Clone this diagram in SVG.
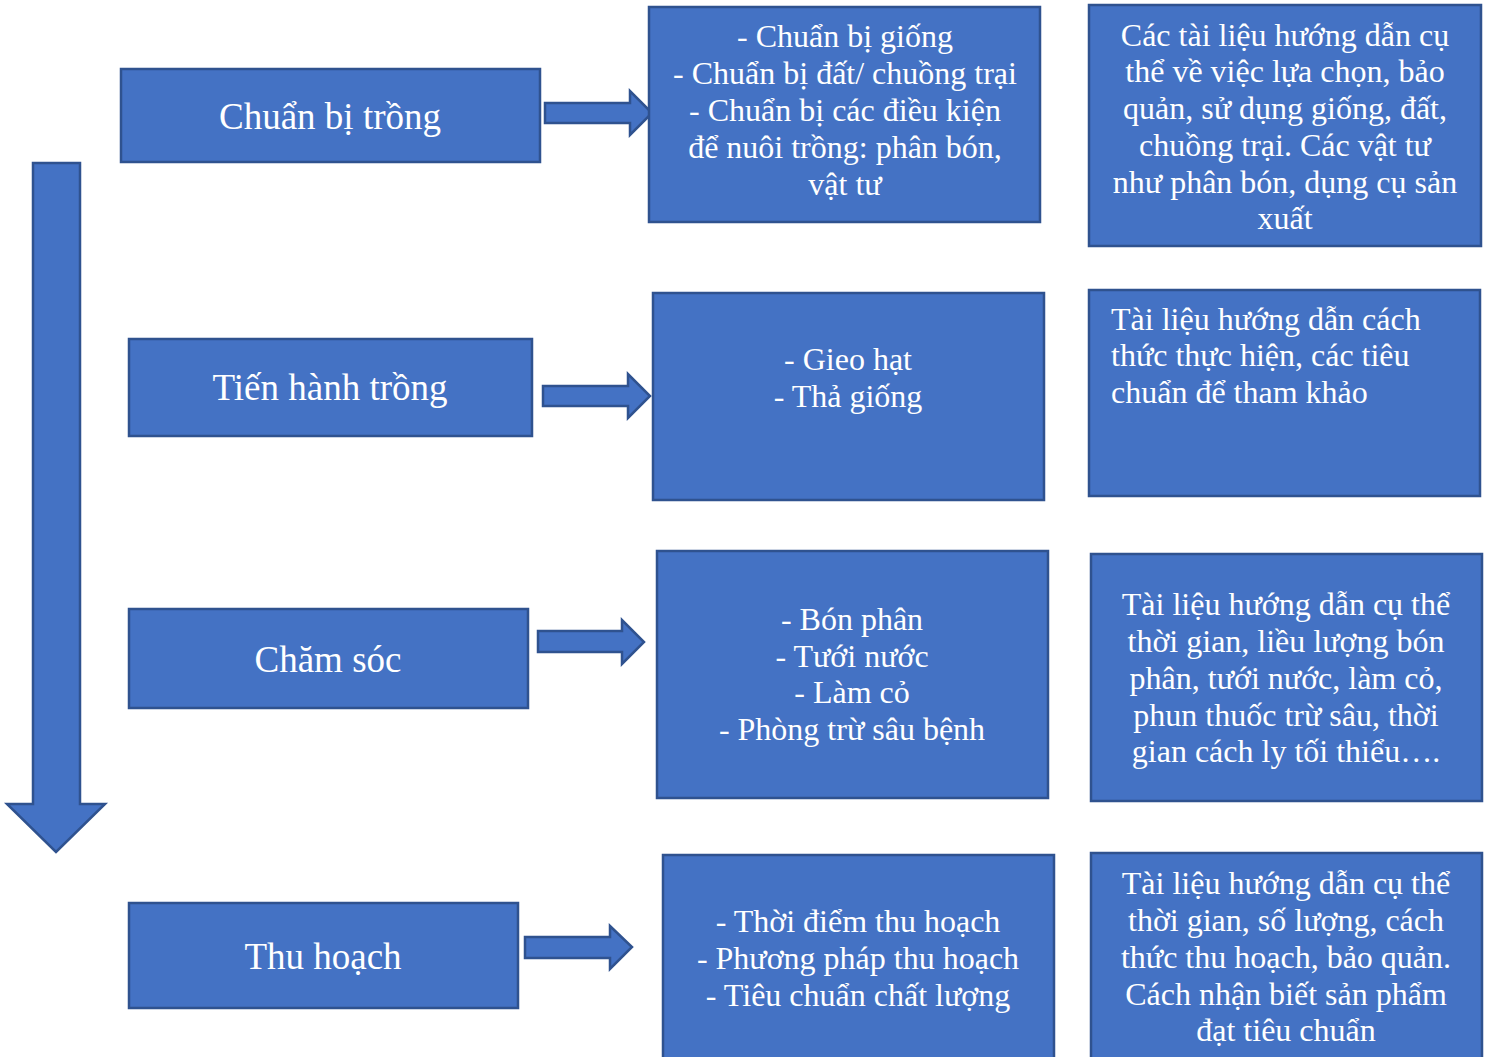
<svg xmlns="http://www.w3.org/2000/svg" width="1490" height="1057" viewBox="0 0 1490 1057">
<style>
.box{fill:#4472C4;stroke:#2F528F;stroke-width:2.5}
.arr{fill:#4472C4;stroke:#2F528F;stroke-width:2.5;stroke-linejoin:miter}
text{font-family:"Liberation Serif","Times New Roman",serif;fill:#fff}
.big{font-size:37px;text-anchor:middle}
.t{font-size:32px;text-anchor:middle}
.tl{font-size:32px;text-anchor:start}
</style>
<rect width="1490" height="1057" fill="#fff"/>
<g id="connectors">
<path class="arr" d="M33,163 H80 V804 H105 L56,852 L7,804 H33 Z"/>
<path class="arr" d="M545,103 H630 V91 L652,113 L630,135 V123 H545 Z"/>
<path class="arr" d="M543,386 H628 V374 L650,396 L628,418 V406 H543 Z"/>
<path class="arr" d="M538,631 H622 V620 L644,642 L622,664 V652 H538 Z"/>
<path class="arr" d="M525,937 H610 V926 L632,947 L610,969 V958 H525 Z"/>
</g>
<g id="n1"><rect class="box" x="121" y="69" width="419" height="93"/><text class="big" x="330" y="129">Chuẩn bị trồng</text></g>
<g id="n2"><rect class="box" x="129" y="339" width="403" height="97"/><text class="big" x="330" y="400">Tiến hành trồng</text></g>
<g id="n3"><rect class="box" x="129" y="609" width="399" height="99"/><text class="big" x="328" y="672">Chăm sóc</text></g>
<g id="n4"><rect class="box" x="129" y="903" width="389" height="105"/><text class="big" x="323" y="969">Thu hoạch</text></g>
<g id="m1"><rect class="box" x="649" y="7" width="391" height="215"/>
<text class="t" x="845"><tspan x="845" y="47">- Chuẩn bị giống</tspan><tspan x="845" y="84">- Chuẩn bị đất/ chuồng trại</tspan><tspan x="845" y="121">- Chuẩn bị các điều kiện</tspan><tspan x="845" y="158">để nuôi trồng: phân bón,</tspan><tspan x="845" y="195">vật tư</tspan></text></g>
<g id="m2"><rect class="box" x="653" y="293" width="391" height="207"/>
<text class="t"><tspan x="848" y="370">- Gieo hạt</tspan><tspan x="848" y="407">- Thả giống</tspan></text></g>
<g id="m3"><rect class="box" x="657" y="551" width="391" height="247"/>
<text class="t"><tspan x="852" y="630">- Bón phân</tspan><tspan x="852" y="667">- Tưới nước</tspan><tspan x="852" y="703">- Làm cỏ</tspan><tspan x="852" y="740">- Phòng trừ sâu bệnh</tspan></text></g>
<g id="m4"><rect class="box" x="663" y="855" width="391" height="210"/>
<text class="t"><tspan x="858" y="932">- Thời điểm thu hoạch</tspan><tspan x="858" y="969">- Phương pháp thu hoạch</tspan><tspan x="858" y="1006">- Tiêu chuẩn chất lượng</tspan></text></g>
<g id="r1"><rect class="box" x="1089" y="5" width="392" height="241"/>
<text class="t"><tspan x="1285" y="46">Các tài liệu hướng dẫn cụ</tspan><tspan x="1285" y="82">thể về việc lựa chọn, bảo</tspan><tspan x="1285" y="119">quản, sử dụng giống, đất,</tspan><tspan x="1285" y="156">chuồng trại. Các vật tư</tspan><tspan x="1285" y="193">như phân bón, dụng cụ sản</tspan><tspan x="1285" y="229">xuất</tspan></text></g>
<g id="r2"><rect class="box" x="1089" y="290" width="391" height="206"/>
<text class="tl"><tspan x="1111" y="330">Tài liệu hướng dẫn cách</tspan><tspan x="1111" y="366">thức thực hiện, các tiêu</tspan><tspan x="1111" y="403">chuẩn để tham khảo</tspan></text></g>
<g id="r3"><rect class="box" x="1091" y="554" width="391" height="247"/>
<text class="t"><tspan x="1286" y="615">Tài liệu hướng dẫn cụ thể</tspan><tspan x="1286" y="652">thời gian, liều lượng bón</tspan><tspan x="1286" y="689">phân, tưới nước, làm cỏ,</tspan><tspan x="1286" y="726">phun thuốc trừ sâu, thời</tspan><tspan x="1286" y="762">gian cách ly tối thiểu….</tspan></text></g>
<g id="r4"><rect class="box" x="1091" y="853" width="391" height="212"/>
<text class="t"><tspan x="1286" y="894">Tài liệu hướng dẫn cụ thể</tspan><tspan x="1286" y="931">thời gian, số lượng, cách</tspan><tspan x="1286" y="968">thức thu hoạch, bảo quản.</tspan><tspan x="1286" y="1005">Cách nhận biết sản phẩm</tspan><tspan x="1286" y="1041">đạt tiêu chuẩn</tspan></text></g>
</svg>
